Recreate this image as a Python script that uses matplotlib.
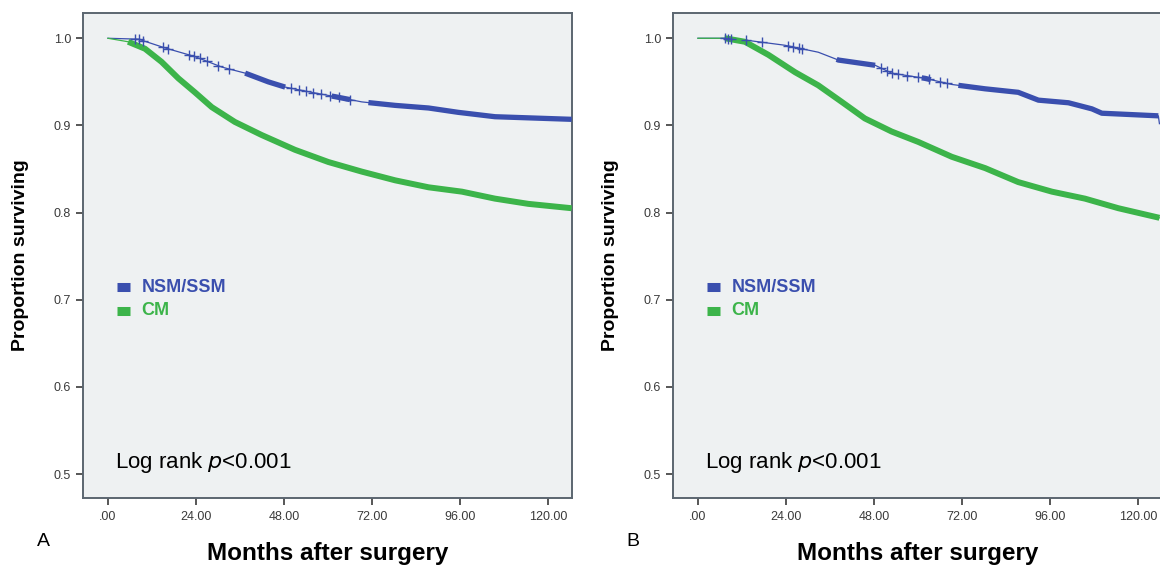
import numpy as np
import matplotlib
matplotlib.use("Agg")
import matplotlib.pyplot as plt

plt.rcParams['font.family'] = ['Liberation Sans', 'DejaVu Sans']

# x / y ticks
x_ticks = [0, 24, 48, 72, 96, 120]
x_tick_labels = ['.00', '24.00', '48.00', '72.00', '96.00', '120.00']
y_ticks = [0.5, 0.6, 0.7, 0.8, 0.9, 1.0]
y_tick_labels = ['0.5', '0.6', '0.7', '0.8', '0.9', '1.0']

# panel A - survival
a_nsm_months = [0, 8.3, 15.5, 23.7, 31.0, 37.4, 43.7, 48.3, 55.5, 61.9, 69.2, 78.3, 87.4, 95.5, 105.5, 126.4]
a_nsm_surv = [1.0, 0.999, 0.989, 0.979, 0.967, 0.960, 0.950, 0.944, 0.938, 0.933, 0.927, 0.923, 0.920, 0.915, 0.910, 0.907]
a_cm_months = [0, 5.5, 10.1, 14.6, 19.2, 23.7, 28.3, 34.6, 41.9, 51.0, 60.1, 69.2, 78.3, 87.4, 96.5, 105.5, 114.6, 126.4]
a_cm_surv = [1.0, 0.996, 0.988, 0.973, 0.954, 0.938, 0.921, 0.904, 0.889, 0.872, 0.858, 0.847, 0.837, 0.829, 0.824, 0.816, 0.810, 0.805]
# censored (sparse) times and dense censoring ranges
a_nsm_censor = [7.5, 8.5, 9.5, 15, 16.5, 22, 23.5, 25, 27, 30, 33, 50, 52, 54, 56, 58, 60.5, 63, 66]
a_nsm_dense = [(37.4, 48.3), (61, 66), (71, 126.4)]
a_cm_dense = [(5.5, 126.4)]

# panel B
b_nsm_months = [0, 7.4, 12.8, 23.7, 32.8, 38.3, 48.3, 52.8, 61.9, 69.2, 78.3, 87.3, 92.8, 101.0, 107.4, 110.1, 125.5, 125.8]
b_nsm_surv = [1.0, 1.0, 0.998, 0.992, 0.984, 0.975, 0.969, 0.960, 0.954, 0.947, 0.942, 0.938, 0.929, 0.926, 0.919, 0.914, 0.911, 0.902]
b_cm_months = [0, 7.4, 12.8, 19.2, 26.5, 32.8, 39.2, 45.5, 52.8, 60.1, 69.2, 78.3, 87.3, 96.5, 105.5, 114.6, 125.8]
b_cm_surv = [1.0, 1.0, 0.996, 0.981, 0.961, 0.946, 0.927, 0.908, 0.893, 0.881, 0.864, 0.851, 0.835, 0.824, 0.816, 0.805, 0.794]
b_nsm_censor = [7.5, 8.3, 9.0, 13, 17.4, 24.5, 26, 27.5, 28.4, 50, 51.5, 53, 54.5, 57, 60, 63, 66, 68]
b_nsm_dense = [(37.8, 48.3), (61, 63.5), (71, 125.5)]
b_cm_dense = [(7.3, 125.8)]

BLUE = '#3a4fae'
GREEN = '#3cb44a'
BG = '#eef1f2'
EDGE = '#5b6670'


def draw_curve(ax, months, surv, color, dense, censor=None, thin=0.9, thick=3.8):
    months = np.asarray(months)
    surv = np.asarray(surv)
    ax.plot(months, surv, color=color, lw=thin, zorder=3)
    for lo, hi in dense:
        inside = (months > lo) & (months < hi)
        xs = np.concatenate([[lo], months[inside], [hi]])
        ys = np.interp(xs, months, surv)
        ax.plot(xs, ys, color=color, lw=thick, solid_capstyle='butt', zorder=3)
    if censor:
        ax.plot(censor, np.interp(censor, months, surv), ls='none', marker='+',
                ms=7, mew=1.0, color=color, zorder=4)


def style_axes(ax, letter):
    ax.set_facecolor(BG)
    ax.set_xlim(-6.8, 126.5)
    ax.set_ylim(0.4725, 1.029)
    ax.set_xticks(x_ticks)
    ax.set_xticklabels(x_tick_labels)
    ax.set_yticks(y_ticks)
    ax.set_yticklabels(y_tick_labels)
    ax.tick_params(axis='both', labelsize=9, colors='#3a3a3a', width=1.2,
                   length=5, direction='out')
    ax.tick_params(axis='x', pad=4)
    for s in ax.spines.values():
        s.set_color(EDGE)
        s.set_linewidth(1.4)
    ax.set_ylabel('Proportion surviving', fontsize=14, fontweight='bold', labelpad=18)
    ax.set_xlabel('Months after surgery', fontsize=17.5, fontweight='bold', labelpad=14)
    ax.text(-0.095, -0.09, letter, transform=ax.transAxes, fontsize=14,
            ha='left', va='center')
    # legend drawn by hand like the SPSS one
    ax.plot([0.069, 0.096], [0.435, 0.435], transform=ax.transAxes, color=BLUE, lw=6.5,
            solid_capstyle='butt')
    ax.plot([0.069, 0.096], [0.386, 0.386], transform=ax.transAxes, color=GREEN, lw=6.5,
            solid_capstyle='butt')
    ax.text(0.120, 0.435, 'NSM/SSM', transform=ax.transAxes, color=BLUE, fontsize=13,
            fontweight='bold', va='center')
    ax.text(0.120, 0.386, 'CM', transform=ax.transAxes, color=GREEN, fontsize=13,
            fontweight='bold', va='center')
    ax.text(0.066, 0.074, 'Log rank $\\it{p}$<0.001', transform=ax.transAxes,
            fontsize=16, va='center')


fig = plt.figure(figsize=(11.6, 5.71), dpi=100)
axA = fig.add_axes([83 / 1160, 1 - 498 / 571, 489 / 1160, 485 / 571])
axB = fig.add_axes([673 / 1160, 1 - 498 / 571, 489 / 1160, 485 / 571])

draw_curve(axA, a_nsm_months, a_nsm_surv, BLUE, a_nsm_dense, a_nsm_censor)
draw_curve(axA, a_cm_months, a_cm_surv, GREEN, a_cm_dense, thick=4.3)
style_axes(axA, 'A')

draw_curve(axB, b_nsm_months, b_nsm_surv, BLUE, b_nsm_dense, b_nsm_censor)
draw_curve(axB, b_cm_months, b_cm_surv, GREEN, b_cm_dense, thick=4.3)
style_axes(axB, 'B')

plt.savefig('out.png', dpi=100)
